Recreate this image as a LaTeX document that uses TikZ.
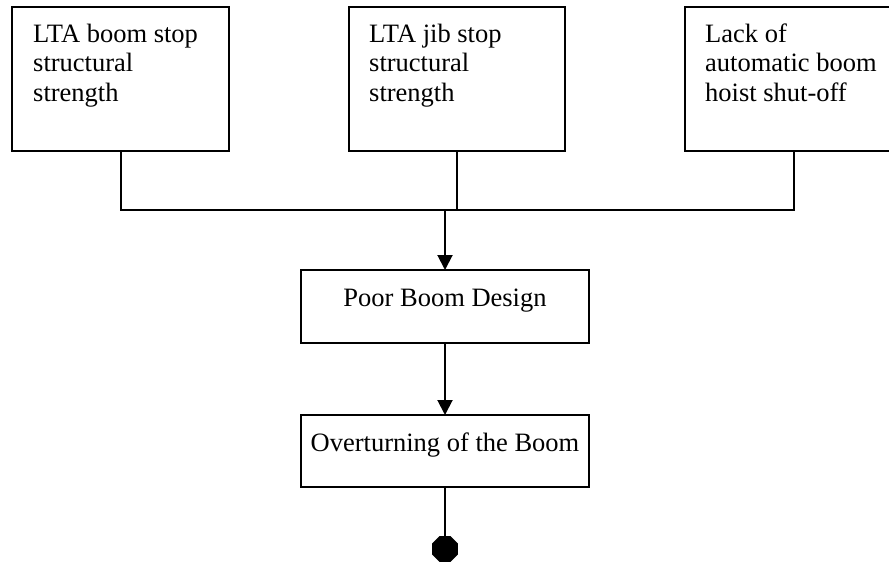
\documentclass[tikz,border=0pt]{standalone}
\usepackage{fontspec}
\setmainfont{Liberation Serif}
\usetikzlibrary{arrows.meta,shapes.geometric}
\begin{document}
\begin{tikzpicture}[x=1pt,y=-1pt,
  box/.style={draw, line width=2pt, rectangle, inner sep=0pt, outer sep=0pt, anchor=north west},
  txt/.style={font=\fontsize{26.5}{29.5}\selectfont, inner sep=0pt, align=left},
  wire/.style={line width=2pt, line join=miter},
  arr/.style={wire, -{Triangle[width=15pt,length=15pt]}}]
\useasboundingbox (0,0) rectangle (889,565);
\clip (0,0) rectangle (889,565);
% top boxes
\node[box, minimum width=217pt, minimum height=144pt] (b1) at (12,7) {};
\node[box, minimum width=216pt, minimum height=144pt] (b2) at (349,7) {};
\node[box, minimum width=217pt, minimum height=144pt] (b3) at (685,7) {};
\node[txt, anchor=base west] (t1) at (33,101) {LTA boom stop\\structural\\strength};
\node[txt, anchor=base west] (t2) at (369,101) {LTA jib stop\\structural\\strength};
\node[txt, anchor=base west] (t3) at (705,101) {Lack of\\automatic boom\\hoist shut-off};
% middle boxes
\node[box, minimum width=288pt, minimum height=73pt] (pbd) at (301,270) {};
\node[txt, anchor=base] (tp) at (445,306) {Poor Boom Design};
\node[box, minimum width=288pt, minimum height=72pt] (ob) at (301,415) {};
\node[txt, anchor=base] (to) at (445,451) {Overturning of the Boom};
% stop octagon
\node[regular polygon, regular polygon sides=8, fill=black, draw=none, minimum size=28pt, inner sep=0pt, outer sep=0pt] (stop) at (445,549) {};
% connectors
\coordinate (jy) at (0,210);
\draw[wire] (b1.south) |- (b3.south |- jy) -- (b3.south);
\draw[wire] (b2.south) -- (b2.south |- jy);
\draw[arr] (pbd.north |- jy) -- (pbd.north);
\draw[arr] (pbd.south) -- (ob.north);
\draw[wire] (ob.south) -- (stop.north);
\end{tikzpicture}
\end{document}
